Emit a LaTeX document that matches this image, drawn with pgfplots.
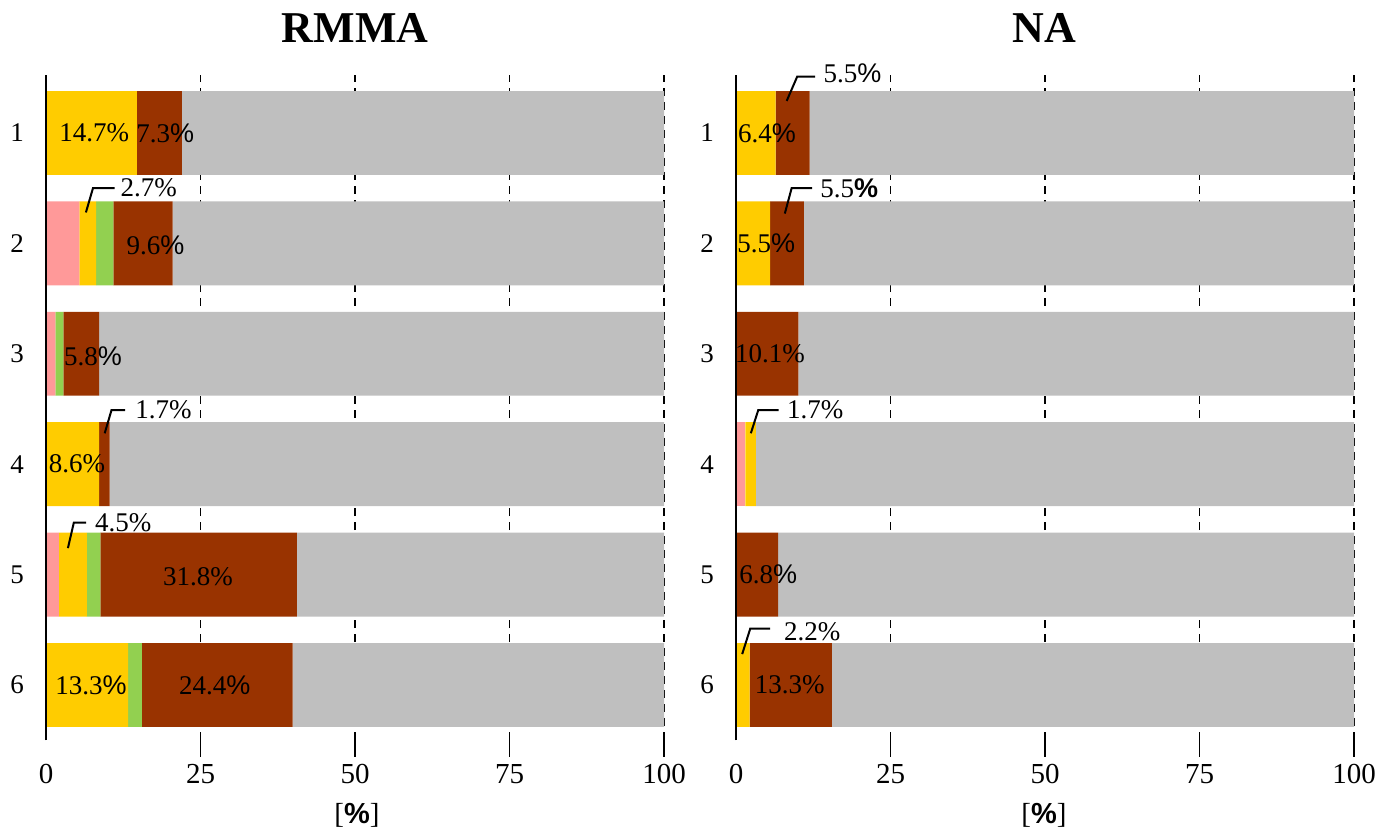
\documentclass[border=0pt]{standalone}
\usepackage{fontspec}
\setmainfont{Liberation Serif}
\setsansfont{Liberation Sans}
\usepackage{pgfplots}
\pgfplotsset{compat=1.18}
\definecolor{cpink}{HTML}{FF9999}
\definecolor{cyel}{HTML}{FFCC00}
\definecolor{cgreen}{HTML}{92D050}
\definecolor{cred}{HTML}{993300}
\definecolor{cgray}{HTML}{BFBFBF}
\newcommand{\pctS}{{\sffamily\%}}
\tikzset{bl/.style={font=\fontsize{13.5}{16}\selectfont, inner sep=0pt},
  cl/.style={black, line width=1pt},
  tk/.style={black, line width=0.75pt}}
\pgfplotsset{geom/.style={
  scale only axis, width=309pt, height=332.5pt,
  xmin=0, xmax=100, ymin=0.502, ymax=6.525, clip=false},
  panel/.style={geom,
  xbar stacked, bar width=0.76,
  xtick={0,25,50,75,100}, ytick={1,2,3,4,5,6}, yticklabels={6,5,4,3,2,1},
  major tick length=0pt,
  axis lines*=left,
  x axis line style={draw=none},
  y axis line style={draw=none},
  xmajorgrids,
  major grid style={black, line width=0.7pt, dash pattern=on 4pt off 3pt},
  /pgf/number format/assume math mode=true,
  xticklabel style={font=\fontsize{14.5}{17}\selectfont, yshift=-8.7pt},
  yticklabel style={font=\fontsize{13.5}{16}\selectfont, xshift=-7.5pt},
  },
  over/.style={geom, hide axis}}
\begin{document}
\begin{tikzpicture}
% ---------------- RMMA ----------------
\begin{axis}[panel, at={(0pt,0pt)}, anchor=south west]
\addplot[draw=none, fill=cpink] coordinates {(0,6) (5.4,5) (1.5,4) (0,3) (2.1,2) (0,1)};
\addplot[draw=none, fill=cyel] coordinates {(14.7,6) (2.7,5) (0,4) (8.6,3) (4.5,2) (13.3,1)};
\addplot[draw=none, fill=cgreen] coordinates {(0,6) (2.8,5) (1.3,4) (0,3) (2.2,2) (2.2,1)};
\addplot[draw=none, fill=cred] coordinates {(7.3,6) (9.6,5) (5.8,4) (1.7,3) (31.8,2) (24.4,1)};
\addplot[draw=none, fill=cgray] coordinates {(78.0,6) (79.5,5) (91.4,4) (89.7,3) (59.4,2) (60.1,1)};
\end{axis}
\begin{axis}[over, at={(0pt,0pt)}, anchor=south west]
\draw[tk] (axis cs:25,0.56) -- (axis cs:25,0.348);
\draw[tk] (axis cs:50,0.56) -- (axis cs:50,0.348);
\draw[tk] (axis cs:75,0.56) -- (axis cs:75,0.348);
\draw[tk] (axis cs:100,0.56) -- (axis cs:100,0.348);
\draw[tk] (axis cs:0,0.502) -- (axis cs:0,6.525);
\node[bl] at (axis cs:7.8,6) {14.7\%};
\node[bl] at (axis cs:19.3,6) {7.3\pctS};
\node[bl] at (axis cs:17.7,4.98) {9.6\pctS};
\node[bl] at (axis cs:7.6,3.98) {5.8\pctS};
\node[bl] at (axis cs:5.0,3) {8.6\%};
\node[bl] at (axis cs:24.6,1.98) {31.8\%};
\node[bl] at (axis cs:7.3,1) {13.3\pctS};
\node[bl] at (axis cs:27.3,1) {24.4\pctS};
\draw[cl] (axis cs:6.46,5.28) -- (axis cs:7.6,5.5) -- (axis cs:11.1,5.5);
\node[bl, anchor=west] at (axis cs:12.0,5.5) {2.7\%};
\draw[cl] (axis cs:9.5,3.28) -- (axis cs:10.6,3.49) -- (axis cs:12.8,3.49);
\node[bl, anchor=west] at (axis cs:14.4,3.49) {1.7\%};
\draw[cl] (axis cs:3.55,2.24) -- (axis cs:4.5,2.47) -- (axis cs:6.5,2.47);
\node[bl, anchor=west] at (axis cs:7.9,2.47) {4.5\%};
\end{axis}
% ---------------- NA ----------------
\begin{axis}[panel, at={(345pt,0pt)}, anchor=south west]
\addplot[draw=none, fill=cpink] coordinates {(0,6) (0,5) (0,4) (1.5,3) (0,2) (0,1)};
\addplot[draw=none, fill=cyel] coordinates {(6.4,6) (5.5,5) (0,4) (1.7,3) (0,2) (2.2,1)};
\addplot[draw=none, fill=cgreen] coordinates {(0,6) (0,5) (0,4) (0,3) (0,2) (0,1)};
\addplot[draw=none, fill=cred] coordinates {(5.5,6) (5.5,5) (10.1,4) (0,3) (6.8,2) (13.3,1)};
\addplot[draw=none, fill=cgray] coordinates {(88.1,6) (89.0,5) (89.9,4) (96.8,3) (93.2,2) (84.5,1)};
\end{axis}
\begin{axis}[over, at={(345pt,0pt)}, anchor=south west]
\draw[tk] (axis cs:25,0.56) -- (axis cs:25,0.348);
\draw[tk] (axis cs:50,0.56) -- (axis cs:50,0.348);
\draw[tk] (axis cs:75,0.56) -- (axis cs:75,0.348);
\draw[tk] (axis cs:100,0.56) -- (axis cs:100,0.348);
\draw[tk] (axis cs:0,0.502) -- (axis cs:0,6.525);
\node[bl] at (axis cs:5.0,6) {6.4\pctS};
\node[bl] at (axis cs:4.9,5) {5.5\pctS};
\node[bl] at (axis cs:5.5,4) {10.1\%};
\node[bl] at (axis cs:5.2,2) {6.8\pctS};
\node[bl] at (axis cs:8.7,1) {13.3\%};
\draw[cl] (axis cs:8.2,6.29) -- (axis cs:9.9,6.51) -- (axis cs:12.8,6.51);
\node[bl, anchor=west] at (axis cs:14.1,6.54) {5.5\pctS};
\draw[cl] (axis cs:7.9,5.27) -- (axis cs:9.0,5.5) -- (axis cs:12.3,5.5);
\node[bl, anchor=west] at (axis cs:13.6,5.5) {5.5\textbf{\pctS}};
\draw[cl] (axis cs:2.4,3.28) -- (axis cs:3.6,3.49) -- (axis cs:6.9,3.49);
\node[bl, anchor=west] at (axis cs:8.2,3.49) {1.7\%};
\draw[cl] (axis cs:1.0,1.28) -- (axis cs:2.3,1.51) -- (axis cs:5.5,1.51);
\node[bl, anchor=west] at (axis cs:7.7,1.48) {2.2\%};
\end{axis}
% titles and axis labels
\node[anchor=base, font=\fontsize{22}{26}\selectfont\bfseries] at (154.5pt,348.5pt) {RMMA};
\node[anchor=base, font=\fontsize{22}{26}\selectfont\bfseries] at (499pt,348.5pt) {NA};
\node[font=\fontsize{14.5}{17}\selectfont] at (155.5pt,-37.5pt) {[\textbf{\pctS}]};
\node[font=\fontsize{14.5}{17}\selectfont] at (499pt,-37.5pt) {[\textbf{\pctS}]};
\pgfresetboundingbox
\path[use as bounding box] (-23pt,-45pt) rectangle (674.5pt,370pt);
\end{tikzpicture}
\end{document}
